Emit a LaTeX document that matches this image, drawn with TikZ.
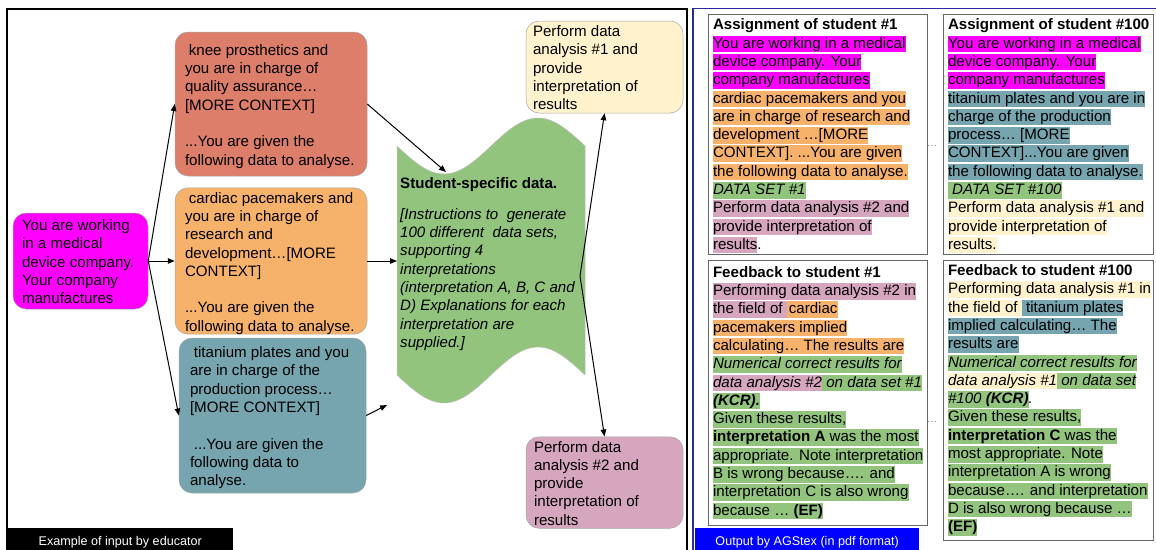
\documentclass[tikz,border=0pt]{standalone}
\usepackage{fontspec}
\setmainfont{Liberation Sans}
\usetikzlibrary{arrows.meta}
\definecolor{cMag}{HTML}{FF00FF}
\definecolor{cKnee}{HTML}{DD7E6B}
\definecolor{cOra}{HTML}{F6B26B}
\definecolor{cTeal}{HTML}{76A5AF}
\definecolor{cGrn}{HTML}{93C47D}
\definecolor{cYel}{HTML}{FFF2CC}
\definecolor{cPnk}{HTML}{D5A6BD}
\definecolor{cNavy}{HTML}{2B2BA0}
\definecolor{cBlue}{HTML}{0000FF}
\newcommand\hl[2]{{\setlength{\fboxsep}{0pt}\colorbox{#1}{\rule[-4pt]{0pt}{16.5pt}#2}}}
\newcommand\bx[3][2.5pt]{\raisebox{-#1}[\height][\depth]{\makebox[#2][l]{\begin{tabular}{@{}l@{}}#3\end{tabular}}}}
\begin{document}
\begin{tikzpicture}[x=1pt,y=-1pt,
  every node/.style={font=\fontsize{15.1}{18.3}\selectfont},
  lbox/.style={rectangle, rounded corners=13pt, draw=black!35, line width=0.5pt, inner ysep=0pt},
  panel/.style={rectangle, draw=black!60, line width=0.8pt, inner xsep=5pt, inner ysep=0pt},
  bar/.style={rectangle, inner sep=0pt, anchor=north west, text=white, font=\fontsize{12.6}{15}\selectfont, minimum height=29pt},
  arr/.style={-{Triangle[length=7pt,width=5.5pt]}, line width=1pt}]
\useasboundingbox (0,0) rectangle (1156,549);
\clip (0,0) rectangle (1156,549);
% frames
\draw[line width=1.3pt] (7,9) rectangle (687,560);
\draw[cNavy, line width=1.5pt] (693,8.5) rectangle (1175,560);
\node[bar, fill=black, minimum width=226pt] (lblL) at (7,528) {Example of input by educator};
\node[bar, fill=cBlue, minimum width=224pt] (lblR) at (695,528) {Output by AGStex (in pdf format)};
% left boxes
\node[lbox, fill=cMag, minimum width=135pt, minimum height=96pt, inner xsep=9pt] (mag) at (80.5,261)
  {\bx{117pt}{You are working\\in a medical\\device company.\\Your company\\manufactures}};
\node[lbox, fill=cKnee, minimum width=192pt, minimum height=144pt, inner xsep=10pt] (knee) at (271,104)
  {\bx{172pt}{\hspace*{3.9pt}knee prosthetics and\\you are in charge of\\quality assurance…\\{[MORE CONTEXT]}\\ \\...You are given the\\following data to analyse.}};
\node[lbox, fill=cOra, minimum width=192pt, minimum height=146pt, inner xsep=10pt] (card) at (271,261)
  {\bx{172pt}{\hspace*{3.9pt}cardiac pacemakers and\\you are in charge of\\research and\\development…[MORE\\CONTEXT]\\ \\...You are given the\\following data to analyse.}};
\node[lbox, fill=cTeal, minimum width=187pt, minimum height=155pt, inner xsep=11pt] (tita) at (272.5,415.5)
  {\bx{165pt}{\hspace*{3.9pt}titanium plates and you\\are in charge of the\\production process…\\{[MORE CONTEXT]}\\ \\\hspace*{3.9pt}...You are given the\\following data to\\analyse.}};
\node[lbox, fill=cYel, minimum width=157pt, minimum height=92pt, inner xsep=7pt] (yel) at (604.5,67)
  {\bx{143pt}{Perform data\\analysis \#1 and\\provide\\interpretation of\\results}};
\node[lbox, fill=cPnk, minimum width=157pt, minimum height=91pt, inner xsep=8pt] (pnk) at (604.5,482.5)
  {\bx{141pt}{Perform data\\analysis \#2 and\\provide\\interpretation of\\results}};
% green tape
\filldraw[fill=cGrn, draw=black!25, line width=0.5pt]
  plot[domain=0:360,samples=61,smooth] ({397+0.522222*\x},{146+28*sin(\x)})
  -- plot[domain=360:0,samples=61,smooth] ({397+0.522222*\x},{375+28*sin(\x)}) -- cycle;
\node[anchor=north west, inner sep=0pt] (gtext) at (400,175.5)
  {\begin{tabular}{@{}l@{}}\textbf{Student-specific data.}\\[12.5pt]
  \textit{[Instructions to\ \ generate}\\
  \textit{100 different\ \ data sets,}\\
  \textit{supporting 4}\\
  \textit{interpretations}\\
  \textit{(interpretation A, B, C and}\\
  \textit{D) Explanations for each}\\
  \textit{interpretation are}\\
  \textit{supplied.]}\end{tabular}};
\coordinate (gdip) at (446,172);
\coordinate (gwest) at (397,261);
\coordinate (gsrc) at (580,276);
\coordinate (tend) at (387,405);
% right panels
\node[panel, minimum width=219pt, minimum height=240pt] (a1) at (817.5,134)
  {\bx[2pt]{209pt}{\textbf{Assignment of student \#1}\\
  \hl{cMag}{You are working in a medical}\\
  \hl{cMag}{device company. Your}\\
  \hl{cMag}{company manufactures}\\
  \hl{cOra}{cardiac pacemakers and you}\\
  \hl{cOra}{are in charge of research and}\\
  \hl{cOra}{development …[MORE}\\
  \hl{cOra}{CONTEXT]. ...You are given}\\
  \hl{cOra}{the following data to analyse.}\\
  \hl{cGrn}{\itshape DATA SET \#1}\\
  \hl{cPnk}{Perform data analysis \#2 and}\\
  \hl{cPnk}{provide interpretation of}\\
  \hl{cPnk}{results}.}};
\node[panel, minimum width=210pt, minimum height=240pt] (a100) at (1048,134)
  {\bx[2pt]{200pt}{\textbf{Assignment of student \#100}\\
  \hl{cMag}{You are working in a medical}\\
  \hl{cMag}{device company. Your}\\
  \hl{cMag}{company manufactures}\\
  \hl{cTeal}{titanium plates and you are in}\\
  \hl{cTeal}{charge of the production}\\
  \hl{cTeal}{process… [MORE}\\
  \hl{cTeal}{CONTEXT]...You are given}\\
  \hl{cTeal}{the following data to analyse.}\\
  \hl{cGrn}{\itshape\ DATA SET \#100}\\
  \hl{cYel}{Perform data analysis \#1 and}\\
  \hl{cYel}{provide interpretation of}\\
  \hl{cYel}{results.}}};
\node[panel, minimum width=219pt, minimum height=265pt] (f1) at (817.5,392.5)
  {\bx[0pt]{209pt}{\textbf{Feedback to student \#1}\\
  \hl{cPnk}{Performing data analysis \#2 in}\\
  \hl{cPnk}{the field of\ }\hl{cOra}{\kern2pt cardiac}\\
  \hl{cOra}{pacemakers implied}\\
  \hl{cOra}{calculating… The results are}\\
  \hl{cGrn}{\itshape Numerical correct results for}\\
  \hl{cPnk}{\itshape data analysis \#2}\hl{cGrn}{\itshape\ on data set \#1}\\
  \hl{cGrn}{\bfseries\itshape (KCR).}\\
  \hl{cGrn}{Given these results,}\\
  \hl{cGrn}{\textbf{interpretation A} was the most}\\
  \hl{cGrn}{appropriate. Note interpretation}\\
  \hl{cGrn}{B is wrong because…. and}\\
  \hl{cGrn}{interpretation C is also wrong}\\
  \hl{cGrn}{because … \textbf{(EF)}}}};
\node[panel, minimum width=210pt, minimum height=280pt] (f100) at (1048,400)
  {\bx[0pt]{200pt}{\textbf{Feedback to student \#100}\\
  \hl{cYel}{Performing data analysis \#1 in}\\
  \hl{cYel}{the field of\ }\hl{cTeal}{\ titanium plates}\\
  \hl{cTeal}{implied calculating… The}\\
  \hl{cTeal}{results are}\\
  \hl{cGrn}{\itshape Numerical correct results for}\\
  \hl{cYel}{\itshape data analysis \#1}\hl{cGrn}{\itshape\ on data set}\\
  \hl{cGrn}{\itshape \#100 \textbf{(KCR)}}{\itshape .}\\
  \hl{cGrn}{Given these results,}\\
  \hl{cGrn}{\textbf{interpretation C} was the}\\
  \hl{cGrn}{most appropriate. Note}\\
  \hl{cGrn}{interpretation A is wrong}\\
  \hl{cGrn}{because…. and interpretation}\\
  \hl{cGrn}{D is also wrong because …}\\
  \hl{cGrn}{\textbf{(EF)}}}};
\node[text=black!55, font=\fontsize{10}{12}\selectfont, inner sep=0pt] (dots1) at (932,146) {…};
\node[text=black!55, font=\fontsize{10}{12}\selectfont, inner sep=0pt] (dots2) at (932,422) {…};
% connectors
\draw[arr] (mag.east) -- (knee.west);
\draw[arr] (mag.east) -- (card.west);
\draw[arr] (mag.east) -- (tita.west);
\draw[arr] (knee.east) -- (gdip);
\draw[arr] (card.east) -- (gwest);
\draw[arr] (tita.east) -- (tend);
\draw[arr] (gsrc) -- (yel.south);
\draw[arr] (gsrc) -- (pnk.north);
\end{tikzpicture}
\end{document}
